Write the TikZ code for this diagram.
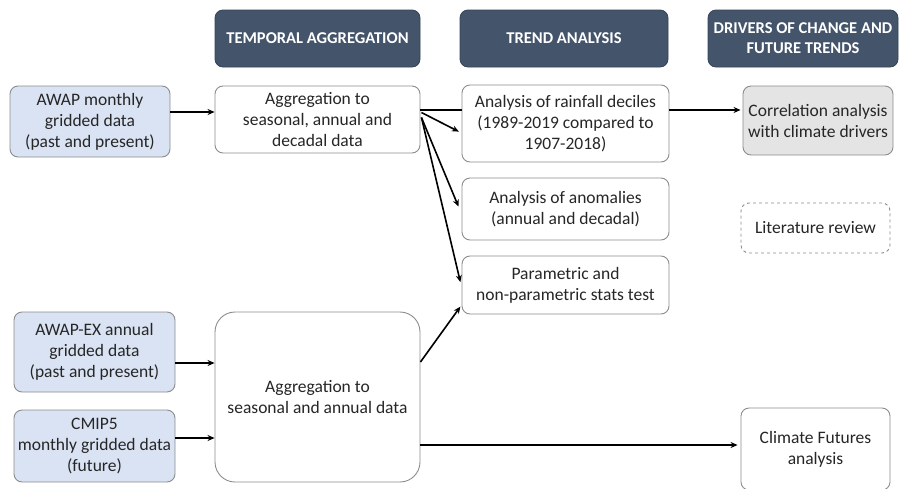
\documentclass[tikz,border=0pt]{standalone}
\usepackage{fontspec}
\setmainfont{Carlito}
\usetikzlibrary{arrows.meta,calc}
\definecolor{hdr}{HTML}{44546A}
\definecolor{lblue}{HTML}{DAE3F3}
\definecolor{lgray}{HTML}{E4E4E4}
\definecolor{bord}{HTML}{8C8C8C}
\tikzset{
  box/.style={draw=bord, line width=0.9pt, rounded corners=8pt, align=center, font=\fontsize{17.5}{21}\selectfont, inner sep=0pt, fill=white, text=black!85},
  hbox/.style={fill=hdr, draw=hdr!80!black, line width=0.8pt, rounded corners=8pt, align=center, text=white, font=\fontsize{16.5}{20}\selectfont\bfseries, inner sep=0pt},
  arr/.style={line width=1.6pt, -{Stealth[length=7pt,width=6pt]}},
}
\begin{document}
\begin{tikzpicture}[x=1pt,y=-1pt]
\useasboundingbox (0,0) rectangle (900,488);
% headers
\node[hbox, minimum width=205pt, minimum height=57pt] (h1) at (317.5,38.5) {TEMPORAL AGGREGATION};
\node[hbox, minimum width=208pt, minimum height=57pt] (h2) at (564,38.5) {TREND ANALYSIS};
\node[hbox, minimum width=190pt, minimum height=57pt] (h3) at (803,38.5) {DRIVERS OF CHANGE AND\\FUTURE TRENDS};
% inputs
\node[box, fill=lblue, minimum width=160pt, minimum height=71pt] (awap) at (90,121.5) {AWAP monthly\\gridded data\\(past and present)};
\node[box, fill=lblue, minimum width=161pt, minimum height=80pt] (awapex) at (94.5,352) {AWAP-EX annual\\gridded data\\(past and present)};
\node[box, fill=lblue, minimum width=161pt, minimum height=72pt] (cmip) at (94.5,446) {CMIP5\\monthly gridded data\\(future)};
% aggregation
\node[box, minimum width=205pt, minimum height=67pt] (agg1) at (317.5,119.5) {Aggregation to\\seasonal, annual and\\decadal data};
\node[box, rounded corners=20pt, minimum width=205pt, minimum height=170pt] (agg2) at (317.5,397) {Aggregation to\\seasonal and annual data};
% trend
\node[box, minimum width=207pt, minimum height=77pt] (rain) at (565.5,123.5) {Analysis of rainfall deciles\\(1989-2019 compared to\\1907-2018)};
\node[box, minimum width=207pt, minimum height=62pt] (anom) at (565.5,209) {Analysis of anomalies\\(annual and decadal)};
\node[box, minimum width=207pt, minimum height=58pt] (param) at (565.5,285) {Parametric and\\non-parametric stats test};
% drivers
\node[box, fill=lgray, minimum width=150pt, minimum height=69pt] (corr) at (818,120.5) {Correlation analysis\\with climate drivers};
\node[box, dashed, minimum width=149pt, minimum height=50pt] (lit) at (815.5,228) {Literature review};
\node[box, minimum width=149pt, minimum height=82pt] (fut) at (815.5,449) {Climate Futures\\analysis};
% connectors
\draw[arr] (awap.east |- 0,112) -- (agg1.west |- 0,112);
\draw[arr] (awapex.east |- 0,363) -- (agg2.west |- 0,363);
\draw[arr] (cmip.east |- 0,438) -- (agg2.west |- 0,438);
\draw[line width=1.6pt] (agg1.east |- 0,110) -- (rain.west |- 0,110);
\coordinate (f1) at ($(agg1.east)+(1,-7)$);
\coordinate (f2) at ($(agg1.east)+(1,-2)$);
\draw[arr, shorten >=3pt] (f1) -- (rain.west |- 0,133);
\draw[arr, shorten >=8pt] (f2) -- (anom.west |- 0,214);
\draw[arr, shorten >=5pt] (f2) -- (param.west |- 0,287);
\draw[arr, shorten >=2pt] (agg2.east |- 0,362) -- (param.west |- 0,305);
\draw[arr, shorten >=2pt] (rain.east |- 0,110) -- (corr.west |- 0,110);
\draw[arr, shorten >=3pt] (agg2.east |- 0,445) -- (fut.west |- 0,445);
\end{tikzpicture}
\end{document}
